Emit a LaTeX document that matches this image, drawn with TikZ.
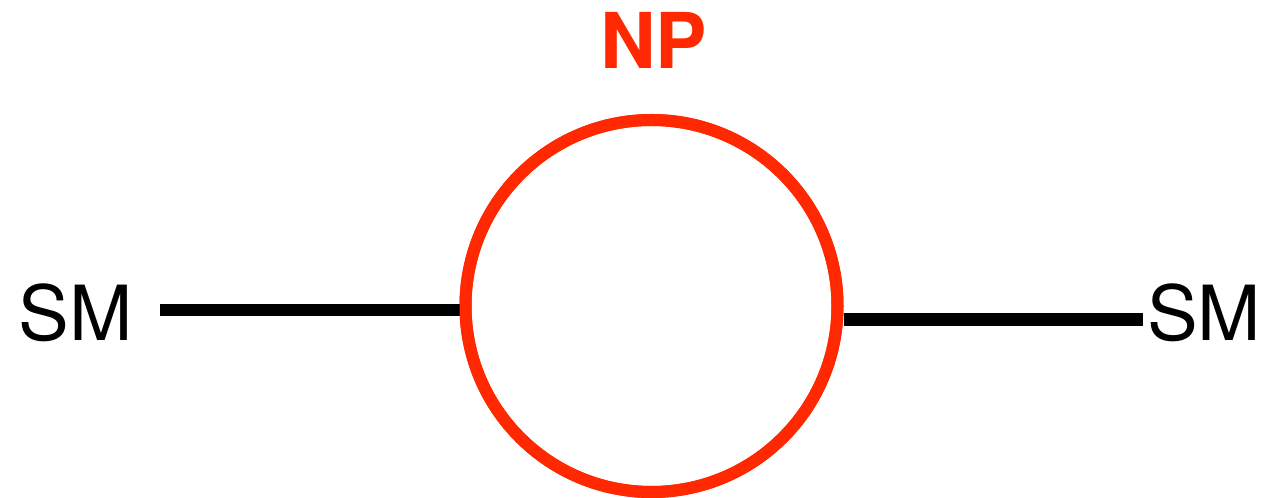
\documentclass[tikz,border=0pt]{standalone}
\usepackage{fontspec}
\setmainfont{TeX Gyre Heros}
\definecolor{npred}{RGB}{255,40,0}
\begin{document}
\begin{tikzpicture}[x=1pt,y=1pt,
  smlabel/.style={anchor=base, inner sep=0pt, font=\fontsize{76}{80}\selectfont},
  nplabel/.style={anchor=base, inner sep=0pt, text=npred, font=\bfseries\fontsize{77}{80}\selectfont},
  leg/.style={line width=12.5pt, black},
  loop/.style={circle, draw=npred, line width=12pt, minimum size=372pt, inner sep=0pt}]
\useasboundingbox (0,0) rectangle (1264,498);
\node[smlabel] (sml) at (76,157) {SM};
\node[smlabel] (smr) at (1204,157) {SM};
\node[nplabel] (np) at (653.5,429) {NP};
\coordinate (lend) at (160,188);
\coordinate (rend) at (1143,178.5);
\node[loop] (c) at (651.5,192) {};
\draw[leg] (lend) -- (lend -| c.west);
\draw[leg] (c.east |- rend) -- (rend);
\node[loop] at (c.center) {};
\end{tikzpicture}
\end{document}
